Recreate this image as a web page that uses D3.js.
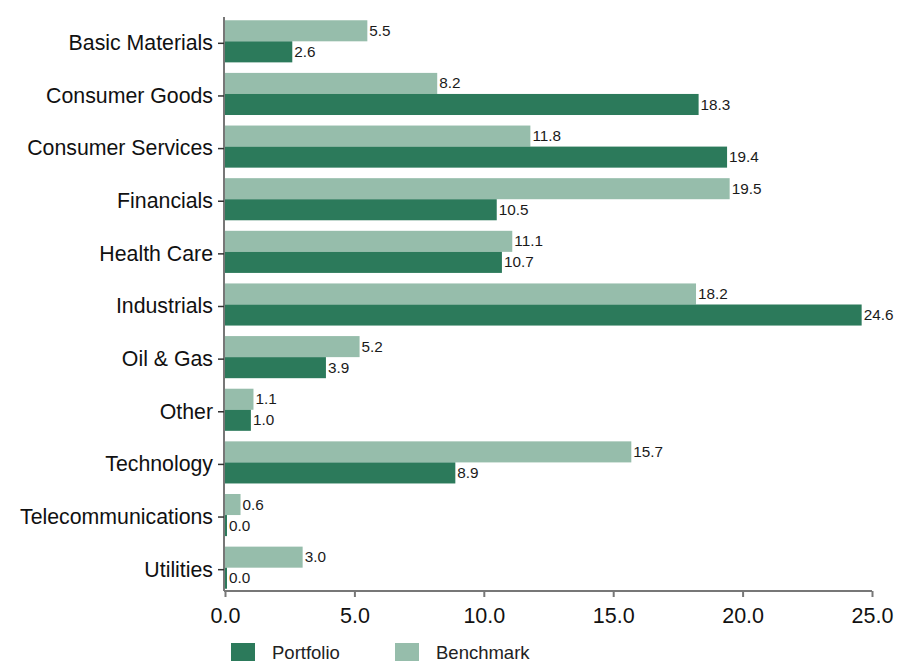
<!DOCTYPE html>
<html>
<head>
<meta charset="utf-8">
<script src="https://cdn.jsdelivr.net/npm/d3@7/dist/d3.min.js"></script>
<style>
  html, body { margin: 0; padding: 0; background: #fff; }
  svg { display: block; font-family: "Liberation Sans", Arial, sans-serif; }
</style>
</head>
<body>
<svg id="chart" width="898" height="663"></svg>
<script>
// Sector weights (%)
const sectors = ["Basic Materials", "Consumer Goods", "Consumer Services", "Financials",
  "Health Care", "Industrials", "Oil & Gas", "Other", "Technology",
  "Telecommunications", "Utilities"];
const portfolio = [2.6, 18.3, 19.4, 10.5, 10.7, 24.6, 3.9, 1.0, 8.9, 0.0, 0.0];
const benchmark = [5.5, 8.2, 11.8, 19.5, 11.1, 18.2, 5.2, 1.1, 15.7, 0.6, 3.0];
const xTicks = [0, 5, 10, 15, 20, 25];

const seriesNames = ["Benchmark", "Portfolio"];
const colors = { Portfolio: "#2c7a5b", Benchmark: "#96bdab" };

const svg = d3.select("#chart");
const plot = { left: 225, right: 872, top: 15, bottom: 591 };

const x = d3.scaleLinear().domain([0, 25]).range([plot.left, plot.right]);
const y = d3.scaleBand().domain(sectors).range([plot.top, plot.bottom + 3])
  .paddingInner(0.2).paddingOuter(0.1);
const ySub = d3.scaleBand().domain(seriesNames).range([0, y.bandwidth()]);

const rows = sectors.map((s, i) => ({ sector: s, Portfolio: portfolio[i], Benchmark: benchmark[i] }));

// Bars
const groups = svg.append("g").selectAll("g").data(rows).join("g")
  .attr("transform", d => `translate(0,${y(d.sector)})`);

groups.selectAll("rect")
  .data(d => seriesNames.map(k => ({ key: k, value: d[k] })))
  .join("rect")
  .attr("x", x(0))
  .attr("y", d => ySub(d.key))
  .attr("width", d => Math.max(x(d.value) - x(0), 2))
  .attr("height", ySub.bandwidth())
  .attr("fill", d => colors[d.key]);

groups.selectAll("text")
  .data(d => seriesNames.map(k => ({ key: k, value: d[k] })))
  .join("text")
  .attr("x", d => Math.max(x(d.value), x(0) + 2) + 2)
  .attr("y", d => ySub(d.key) + ySub.bandwidth() / 2 + 1)
  .attr("dominant-baseline", "middle")
  .attr("font-size", 15.3)
  .attr("fill", "#1a1a1a")
  .text(d => d.value.toFixed(1));

// Y axis (category ticks sit slightly below the bar-pair centre)
const yAxis = svg.append("g").attr("transform", `translate(${plot.left - 1},0)`)
  .call(d3.axisLeft(y).tickSize(6).tickSizeOuter(0));
yAxis.selectAll(".tick").attr("transform", d => `translate(0,${y(d) + y.bandwidth() / 2 + 2})`);
yAxis.select(".domain").attr("stroke", "#777").attr("stroke-width", 2)
  .attr("d", `M0,${plot.top + 2}V${plot.bottom}`);
yAxis.selectAll(".tick line").attr("stroke", "#333").attr("stroke-width", 1.5);
yAxis.selectAll(".tick text").attr("font-size", 21.3).attr("fill", "#111")
  .attr("font-family", "Liberation Sans, Arial, sans-serif").attr("x", -11);

// X axis
const xAxis = svg.append("g").attr("transform", `translate(0,${plot.bottom})`)
  .call(d3.axisBottom(x).tickValues(xTicks).tickFormat(d3.format(".1f")).tickSize(6).tickSizeOuter(0));
xAxis.select(".domain").attr("stroke", "#777").attr("stroke-width", 2)
  .attr("d", `M${plot.left - 1},0H${plot.right}`);
xAxis.selectAll(".tick line").attr("stroke", "#777").attr("stroke-width", 2);
xAxis.selectAll(".tick text").attr("font-size", 21.5).attr("fill", "#111")
  .attr("font-family", "Liberation Sans, Arial, sans-serif").attr("dy", "1.05em");

// Legend
const legendItems = [
  { name: "Portfolio", x: 231 },
  { name: "Benchmark", x: 395 }
];
const legend = svg.append("g").selectAll("g").data(legendItems).join("g")
  .attr("transform", d => `translate(${d.x},643)`);
legend.append("rect").attr("width", 24).attr("height", 18)
  .attr("fill", d => colors[d.name]);
legend.append("text").attr("x", 41).attr("y", 11).attr("dominant-baseline", "middle")
  .attr("font-size", 18.5).attr("fill", "#222").text(d => d.name);
</script>
</body>
</html>
